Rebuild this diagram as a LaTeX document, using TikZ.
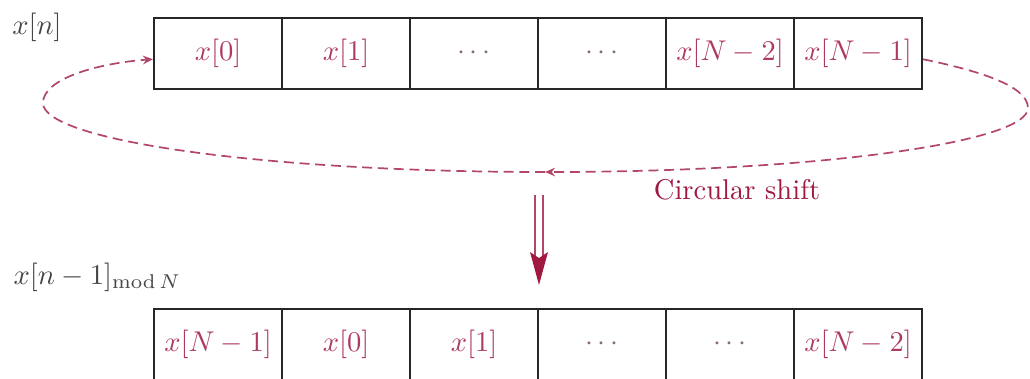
\documentclass[tikz,border=0pt]{standalone}
\usetikzlibrary{arrows.meta}
\definecolor{mred}{RGB}{160,25,65}
\definecolor{lab}{RGB}{70,70,70}
\begin{document}
\begin{tikzpicture}[x=0.35pt,y=-0.35pt,
  cell/.style={draw=black!85, line width=0.7pt, minimum width=44.8pt, minimum height=24.85pt, inner sep=0pt, text=mred!85},
  dotcell/.style={cell, text=gray!80!mred},
  lbl/.style={text=lab, inner sep=0pt},
  circ/.style={draw=mred!80, line width=0.6pt, dash pattern=on 3.5pt off 2pt, -{Stealth[length=3.5pt,width=3pt]}}]
\useasboundingbox (0,0) rectangle (1030,378);
\clip (0,0) rectangle (1030,378);
% top row
\node[cell] (a0) at (218,53.5) {$x[0]$};
\node[cell] (a1) at (346,53.5) {$x[1]$};
\node[dotcell] (a2) at (474,53.5) {$\cdots$};
\node[dotcell] (a3) at (602,53.5) {$\cdots$};
\node[cell] (a4) at (730,53.5) {$x[N-2]$};
\node[cell] (a5) at (858,53.5) {$x[N-1]$};
% bottom row
\node[cell] (b0) at (218,344) {$x[N-1]$};
\node[cell] (b1) at (346,344) {$x[0]$};
\node[cell] (b2) at (474,344) {$x[1]$};
\node[dotcell] (b3) at (602,344) {$\cdots$};
\node[dotcell] (b4) at (730,344) {$\cdots$};
\node[cell] (b5) at (858,344) {$x[N-2]$};
% labels
\node[lbl] (ln) at (37,27) {$x[n]$};
\node[lbl, anchor=west] (lm) at (13,277) {$x[n-1]_{\mathrm{mod}\,N}$};
\node[lbl, text=mred] (cs) at (737,190) {Circular shift};
% circular dashed path
\coordinate (R) at (1028,108);
\coordinate (B) at (545,172);
\coordinate (L) at (43,103);
\draw[circ] ([yshift=-2pt]a5.east) .. controls (975,70) and (1028,85) .. (R)
  .. controls (1028,143) and (810,172) .. (B);
\draw[circ] (B) .. controls (268,172) and (43,141) .. (L)
  .. controls (43,78) and (100,63) .. ([yshift=-2pt]a0.west);
% double arrow
\coordinate (dt) at (539,195);
\coordinate (db) at (539,285);
\draw[mred!80, line width=0.5pt, double=white, double distance=2.2pt, shorten >=9pt] (dt) -- (db);
\fill[mred] (db) -- ++(-9,-33) -- ++(9,6) -- ++(9,-6) -- cycle;
\end{tikzpicture}
\end{document}
